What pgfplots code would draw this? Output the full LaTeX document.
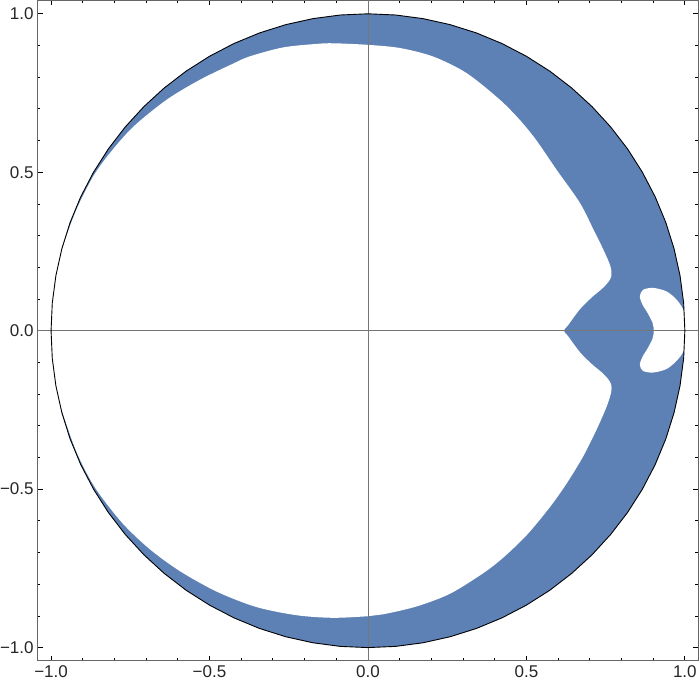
\documentclass[border=0pt]{standalone}
\usepackage{fontspec}
\setmainfont{Liberation Sans}
\usepackage{pgfplots}
\pgfplotsset{compat=1.18}
\usepackage{pgfplotstable}
\definecolor{RegionBlue}{RGB}{94,129,181}
\definecolor{FrameGray}{RGB}{102,102,102}
\definecolor{AxisGray}{RGB}{118,118,118}

% unit circle, 5 degree steps
\pgfplotstableread{
x y
1.0000 0.0000
0.9962 0.0872
0.9848 0.1736
0.9659 0.2588
0.9397 0.3420
0.9063 0.4226
0.8660 0.5000
0.8192 0.5736
0.7660 0.6428
0.7071 0.7071
0.6428 0.7660
0.5736 0.8192
0.5000 0.8660
0.4226 0.9063
0.3420 0.9397
0.2588 0.9659
0.1736 0.9848
0.0872 0.9962
0.0000 1.0000
-0.0872 0.9962
-0.1736 0.9848
-0.2588 0.9659
-0.3420 0.9397
-0.4226 0.9063
-0.5000 0.8660
-0.5736 0.8192
-0.6428 0.7660
-0.7071 0.7071
-0.7660 0.6428
-0.8192 0.5736
-0.8660 0.5000
-0.9063 0.4226
-0.9397 0.3420
-0.9659 0.2588
-0.9848 0.1736
-0.9962 0.0872
-1.0000 0.0000
-0.9962 -0.0872
-0.9848 -0.1736
-0.9659 -0.2588
-0.9397 -0.3420
-0.9063 -0.4226
-0.8660 -0.5000
-0.8192 -0.5736
-0.7660 -0.6428
-0.7071 -0.7071
-0.6428 -0.7660
-0.5736 -0.8192
-0.5000 -0.8660
-0.4226 -0.9063
-0.3420 -0.9397
-0.2588 -0.9659
-0.1736 -0.9848
-0.0872 -0.9962
0.0000 -1.0000
0.0872 -0.9962
0.1736 -0.9848
0.2588 -0.9659
0.3420 -0.9397
0.4226 -0.9063
0.5000 -0.8660
0.5736 -0.8192
0.6428 -0.7660
0.7071 -0.7071
0.7660 -0.6428
0.8192 -0.5736
0.8660 -0.5000
0.9063 -0.4226
0.9397 -0.3420
0.9659 -0.2588
0.9848 -0.1736
0.9962 -0.0872
1.0000 0.0000
}\circledata

% white interior hole, starts and ends on the left arc
\pgfplotstableread{
x y
-1.005 0.000
-1.001 -0.088
-0.991 -0.157
-0.964 -0.258
-0.917 -0.389
-0.860 -0.497
-0.776 -0.606
-0.689 -0.689
-0.593 -0.759
-0.476 -0.824
-0.352 -0.872
-0.224 -0.898
-0.111 -0.906
0.000 -0.901
0.048 -0.895
0.154 -0.870
0.259 -0.830
0.364 -0.765
0.427 -0.716
0.501 -0.645
0.574 -0.557
0.627 -0.482
0.679 -0.397
0.721 -0.313
0.753 -0.240
0.767 -0.196
0.768 -0.172
0.758 -0.153
0.737 -0.131
0.706 -0.105
0.669 -0.068
0.632 -0.018
0.618 0.000
0.632 0.018
0.669 0.068
0.706 0.105
0.737 0.131
0.758 0.153
0.768 0.172
0.767 0.196
0.758 0.222
0.737 0.268
0.715 0.312
0.669 0.403
0.595 0.508
0.532 0.600
0.481 0.663
0.416 0.729
0.311 0.813
0.206 0.865
0.101 0.892
0.000 0.902
-0.109 0.907
-0.162 0.905
-0.267 0.894
-0.372 0.866
-0.425 0.843
-0.530 0.792
-0.635 0.729
-0.740 0.644
-0.814 0.561
-0.867 0.487
-0.917 0.389
-0.954 0.292
-0.985 0.191
-1.001 0.088
-1.005 0.000
}\holedata

% small white bean near (0.93,0)
\pgfplotstableread{
x y
1.003 0.000
1.002 -0.030
0.995 -0.066
0.974 -0.095
0.942 -0.121
0.900 -0.132
0.868 -0.127
0.858 -0.108
0.866 -0.083
0.883 -0.055
0.898 -0.025
0.902 0.000
0.898 0.025
0.883 0.055
0.866 0.083
0.858 0.108
0.868 0.129
0.900 0.135
0.942 0.124
0.974 0.098
0.995 0.066
1.002 0.030
1.003 0.000
}\beandata

\begin{document}
\begin{tikzpicture}
\begin{axis}[
    scale only axis,
    width=660.5pt, height=660.5pt,
    xmin=-1.042, xmax=1.042,
    ymin=-1.042, ymax=1.042,
    xtick={-1,-0.5,0,0.5,1},
    ytick={-1,-0.5,0,0.5,1},
    xticklabels={−1.0,−0.5,0.0,0.5,1.0},
    yticklabels={−1.0,−0.5,0.0,0.5,1.0},
    minor x tick num=4,
    minor y tick num=4,
    major tick length=5pt,
    minor tick length=2.7pt,
    tick style={black, line width=0.8pt},
    axis line style={FrameGray, line width=1pt},
    tick label style={font=\fontsize{17}{20}\selectfont, text=black!85},
    xticklabel style={yshift=-1.6pt},
    yticklabel style={inner xsep=0pt, xshift=-4pt},
    clip=true
]
\addplot[fill=RegionBlue, draw=none] table {\circledata};
\addplot[fill=white, draw=none, smooth, tension=0.5] table {\holedata};
\addplot[fill=white, draw=none, smooth, tension=0.5] table {\beandata};
\addplot[AxisGray, line width=0.8pt] coordinates {(-1.042,0) (1.042,0)};
\addplot[AxisGray, line width=0.8pt] coordinates {(0,-1.042) (0,1.042)};
\addplot[black, line width=0.9pt] table {\circledata};
\end{axis}
\end{tikzpicture}
\end{document}
